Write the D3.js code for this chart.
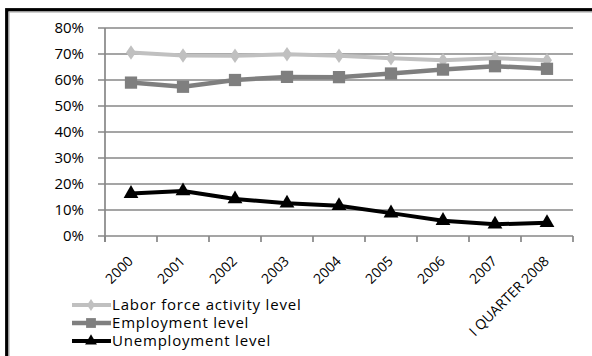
<!DOCTYPE html>
<html>
<head>
<meta charset="utf-8">
<script src="https://cdn.jsdelivr.net/npm/d3@7"></script>
<style>
  html, body { margin: 0; padding: 0; background: #fff; }
  svg { display: block; font-family: "Open Sans", sans-serif; }
</style>
</head>
<body>
<svg id="chart" width="592" height="356"></svg>
<script>
// Labour market indicators, 2000 – I quarter 2008
const categories = ["2000", "2001", "2002", "2003", "2004", "2005", "2006", "2007", "I QUARTER 2008"];
const laborForce = [0.706, 0.694, 0.693, 0.699, 0.693, 0.684, 0.676, 0.684, 0.676];
const employment = [0.590, 0.574, 0.600, 0.612, 0.611, 0.625, 0.640, 0.653, 0.643];
const unemployment = [0.163, 0.173, 0.142, 0.126, 0.116, 0.088, 0.059, 0.045, 0.051];
const yTicks = [0, 0.1, 0.2, 0.3, 0.4, 0.5, 0.6, 0.7, 0.8];
const seriesNames = ["Labor force activity level", "Employment level", "Unemployment level"];

const svg = d3.select("#chart");

// outer frame
svg.append("rect").attr("x", 6.8).attr("y", 9.8).attr("width", 600).attr("height", 400)
  .attr("fill", "none").attr("stroke", "#000").attr("stroke-width", 3.4);
svg.append("rect").attr("x", 9).attr("y", 12).attr("width", 600).attr("height", 400)
  .attr("fill", "none").attr("stroke", "#b0b0b0").attr("stroke-width", 1.2);

const plotLeft = 105, plotRight = 573, plotTop = 28, plotBottom = 236;
const x = d3.scaleBand().domain(categories).range([plotLeft, plotRight]);
const y = d3.scaleLinear().domain([0, 0.8]).range([plotBottom, plotTop]);
const gridColor = "#878787";

// horizontal gridlines with short ticks to the left of the axis
svg.append("g").selectAll("line").data(yTicks).join("line")
  .attr("x1", plotLeft - 7).attr("x2", plotRight)
  .attr("y1", d => y(d)).attr("y2", d => y(d))
  .attr("stroke", gridColor).attr("stroke-width", 1.7);

// y axis labels
const yAxis = d3.axisLeft(y).tickValues(yTicks).tickFormat(d3.format(".0%")).tickSize(0).tickPadding(21);
const gy = svg.append("g").attr("transform", `translate(${plotLeft},0)`).call(yAxis);
gy.select(".domain").remove();
gy.selectAll("text").attr("font-size", 15).attr("font-family", "Open Sans").attr("fill", "#000");

// y axis line
svg.append("line").attr("x1", plotLeft).attr("x2", plotLeft).attr("y1", plotTop).attr("y2", plotBottom + 6)
  .attr("stroke", gridColor).attr("stroke-width", 1.7);

// x ticks at category boundaries
const bounds = categories.map(c => x(c)).concat([x(categories[categories.length - 1]) + x.bandwidth()]);
svg.append("g").selectAll("line").data(bounds).join("line")
  .attr("x1", d => d).attr("x2", d => d).attr("y1", plotBottom).attr("y2", plotBottom + 6)
  .attr("stroke", gridColor).attr("stroke-width", 1.7);

// rotated category labels
svg.append("g").selectAll("text").data(categories).join("text")
  .attr("transform", d => `translate(${x(d) + x.bandwidth() / 2 + 3},262) rotate(-45)`)
  .attr("text-anchor", "end").attr("font-size", 14).attr("fill", "#000")
  .text(d => d);

const cx = d => x(d) + x.bandwidth() / 2;
const line = d3.line().x((d, i) => cx(categories[i])).y(d => y(d));

const diamond = d3.symbol().type(d3.symbolDiamond).size(85);
const square = d3.symbol().type(d3.symbolSquare).size(150);
const triangle = d3.symbol().type(d3.symbolTriangle).size(95);

const series = [
  { name: seriesNames[0], values: laborForce, color: "#c0c0c0", width: 4, sym: diamond },
  { name: seriesNames[1], values: employment, color: "#7f7f7f", width: 4.5, sym: square },
  { name: seriesNames[2], values: unemployment, color: "#000000", width: 4, sym: triangle }
];

series.forEach(s => {
  const g = svg.append("g");
  g.append("path").datum(s.values).attr("d", line)
    .attr("fill", "none").attr("stroke", s.color).attr("stroke-width", s.width)
    .attr("stroke-linejoin", "round");
  g.selectAll("path.m").data(s.values).join("path").attr("class", "m")
    .attr("transform", (d, i) => `translate(${cx(categories[i])},${y(d)})` + (s.sym === diamond ? " scale(1,0.85)" : ""))
    .attr("d", s.sym).attr("fill", s.color);
});

// legend
const legend = svg.append("g");
series.forEach((s, i) => {
  const ly = 305 + i * 18;
  legend.append("line").attr("x1", 72).attr("x2", 111).attr("y1", ly).attr("y2", ly)
    .attr("stroke", s.color).attr("stroke-width", s.width);
  legend.append("path")
    .attr("transform", `translate(91,${ly})` + (s.sym === diamond ? " scale(0.8,0.7)" : " scale(0.8)"))
    .attr("d", s.sym).attr("fill", s.color);
  legend.append("text").attr("x", 112).attr("y", ly + 5.3)
    .attr("font-size", 15).attr("letter-spacing", 0.8).attr("fill", "#000")
    .text(s.name);
});
</script>
</body>
</html>
